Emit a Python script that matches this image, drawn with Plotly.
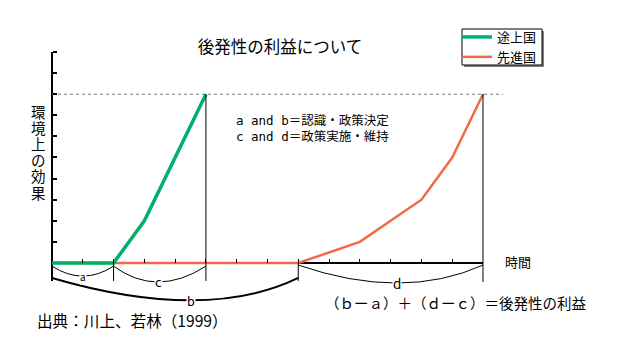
import plotly.graph_objects as go

# ---------------- data ----------------
series_names = ["途上国", "先進国"]
dev_x = [0, 2, 3, 5]          # 途上国
dev_y = [0, 0, 2, 8]
adv_x = [0, 8, 10, 12, 13, 14]  # 先進国
adv_y = [0, 0, 1, 3, 5, 8]
target_level = 8
x_ticks = list(range(1, 14))
y_ticks = list(range(1, 11))
x_max = 14
y_max = 10
# braces: label, start, end
brace_labels = ["a", "c", "b", "d"]
brace_start = [0, 2, 0, 8]
brace_end = [2, 5, 8, 14]
title_text = "後発性の利益について"
y_label = "環境上の効果"
x_label = "時間"
note_lines = ["a and b＝認識・政策決定", "c and d＝政策実施・維持"]
formula_text = "（ｂーａ）＋（ｄーｃ）＝後発性の利益"
source_text = "出典：川上、若林（1999）"

# ---------------- layout geometry ----------------
OFF = 8  # page body margin in the browser
W, H = 620 - OFF, 356 - OFF
# target pixel positions in the window
L_abs, R_abs, T_abs, B_abs = 41, 528, 46, 318
L, T = L_abs - OFF, T_abs - OFF
R = W - (R_abs - OFF)
B = H - (B_abs - OFF)
PW, PH = W - L - R, H - T - B
x_range = [-0.3573, 15.462]
y_range = [-2.607, 10.284]


def px(xp):
    return (xp - L_abs) / PW


def py(yp):
    return (B_abs - yp) / PH


FONT = "Noto Sans CJK JP"
GREEN = "#00b06a"
ORANGE = "#f2694a"

fig = go.Figure()
fig.add_trace(go.Scatter(x=adv_x, y=adv_y, mode="lines", name=series_names[1],
                         line=dict(color=ORANGE, width=2.5)))
fig.add_trace(go.Scatter(x=dev_x, y=dev_y, mode="lines", name=series_names[0],
                         line=dict(color=GREEN, width=3.5)))

shapes = []
# axes lines
shapes.append(dict(type="line", xref="x", yref="y", x0=0, x1=0, y0=-0.85, y1=y_max,
                   line=dict(color="black", width=2), layer="below"))
shapes.append(dict(type="line", xref="x", yref="y", x0=0, x1=x_max, y0=0, y1=0,
                   line=dict(color="black", width=2), layer="below"))
# dotted target level
shapes.append(dict(type="line", xref="x", yref="y", x0=0, x1=x_max + 0.65,
                   y0=target_level, y1=target_level,
                   line=dict(color="#777777", width=1, dash="dot"), layer="below"))
# vertical guide lines
shapes.append(dict(type="line", xref="x", yref="y", x0=dev_x[-1], x1=dev_x[-1],
                   y0=-0.85, y1=target_level, line=dict(color="black", width=1)))
shapes.append(dict(type="line", xref="x", yref="y", x0=adv_x[-1], x1=adv_x[-1],
                   y0=-0.9, y1=target_level, line=dict(color="black", width=1)))
for xv in [brace_end[0], brace_end[2]]:
    shapes.append(dict(type="line", xref="x", yref="y", x0=xv, x1=xv,
                       y0=-0.85, y1=0, line=dict(color="black", width=1)))

# braces (style: end y, bottom y, label x, width, font size)
brace_style = [
    (-0.15, -0.62, 1.0, 1, 10),
    (-0.15, -0.90, 3.45, 1, 13),
    (-0.71, -1.77, 4.5, 2, 12.5),
    (-0.10, -0.95, 11.2, 1, 13.5),
]
annotations = []
for lab, x0, x1, (ye, yb, xm, lw, fs) in zip(brace_labels, brace_start, brace_end, brace_style):
    xc = (4 * xm - x0 - x1) / 2
    yc = 2 * yb - ye
    shapes.append(dict(type="path", xref="x", yref="y",
                       path=f"M {x0},{ye} Q {xc},{yc} {x1},{ye}",
                       line=dict(color="black", width=lw)))
    annotations.append(dict(x=xm, y=yb, xref="x", yref="y", text=lab, showarrow=False,
                            bgcolor="white", borderpad=0,
                            font=dict(size=fs, color="black", family=FONT),
                            xanchor="center", yanchor="middle"))

# legend box with shadow
shapes.append(dict(type="rect", xref="paper", yref="paper", x0=px(464), x1=px(544),
                   y0=py(67), y1=py(31), fillcolor="#808080", line=dict(width=0)))
shapes.append(dict(type="rect", xref="paper", yref="paper", x0=px(462), x1=px(542),
                   y0=py(65), y1=py(29), fillcolor="white",
                   line=dict(color="black", width=1)))

# vertical y label, one character per box
for i, ch in enumerate(y_label):
    annotations.append(dict(x=px(38), y=py(112.5 + 16.2 * i), xref="paper", yref="paper",
                            text=ch, showarrow=False, xanchor="center", yanchor="middle",
                            borderpad=0,
                            font=dict(size=14.5, color="black",
                                      family="Liberation Sans, " + FONT)))

annotations.append(dict(x=px(503), y=py(261), xref="paper", yref="paper", text=x_label,
                        showarrow=False, xanchor="left", yanchor="middle",
                        font=dict(size=13, color="black", family=FONT)))
for i, line in enumerate(note_lines):
    annotations.append(dict(x=px(234), y=py(120 + 16.5 * i), xref="paper", yref="paper",
                            text=line, showarrow=False, xanchor="left", yanchor="middle",
                            font=dict(size=12.5, color="black",
                                      family="DejaVu Sans Mono, " + FONT)))
annotations.append(dict(x=px(323), y=py(302), xref="paper", yref="paper", text=formula_text,
                        showarrow=False, xanchor="left", yanchor="middle",
                        font=dict(size=14.5, color="black", family=FONT)))
annotations.append(dict(x=px(35), y=py(319.5), xref="paper", yref="paper", text=source_text,
                        showarrow=False, xanchor="left", yanchor="middle",
                        font=dict(size=15.6, color="black", family=FONT)))

fig.update_layout(
    width=W, height=H,
    margin=dict(l=L, r=R, t=T, b=B, pad=0),
    paper_bgcolor="white", plot_bgcolor="white",
    font=dict(family=FONT, color="black"),
    title=dict(text=title_text, x=px(280), xref="paper", xanchor="center",
               y=1 - (47 - OFF) / H, yref="container", yanchor="middle",
               font=dict(size=16.5, color="black", family=FONT)),
    xaxis=dict(range=x_range, anchor="free", position=py(263),
               tickvals=x_ticks, ticks="inside", ticklen=4, tickwidth=1, tickcolor="black",
               showticklabels=False, showgrid=False, zeroline=False, showline=False,
               fixedrange=True),
    yaxis=dict(range=y_range, anchor="free", position=px(52),
               tickvals=y_ticks, ticks="inside", ticklen=4, tickwidth=1.5, tickcolor="black",
               showticklabels=False, showgrid=False, zeroline=False, showline=False,
               fixedrange=True),
    showlegend=True,
    legend=dict(x=px(457), y=py(22), xanchor="left", yanchor="top",
                bgcolor="rgba(0,0,0,0)", borderwidth=0, traceorder="reversed",
                font=dict(size=13, color="black", family=FONT)),
    shapes=shapes,
    annotations=annotations,
)

fig.write_html("out.html")
